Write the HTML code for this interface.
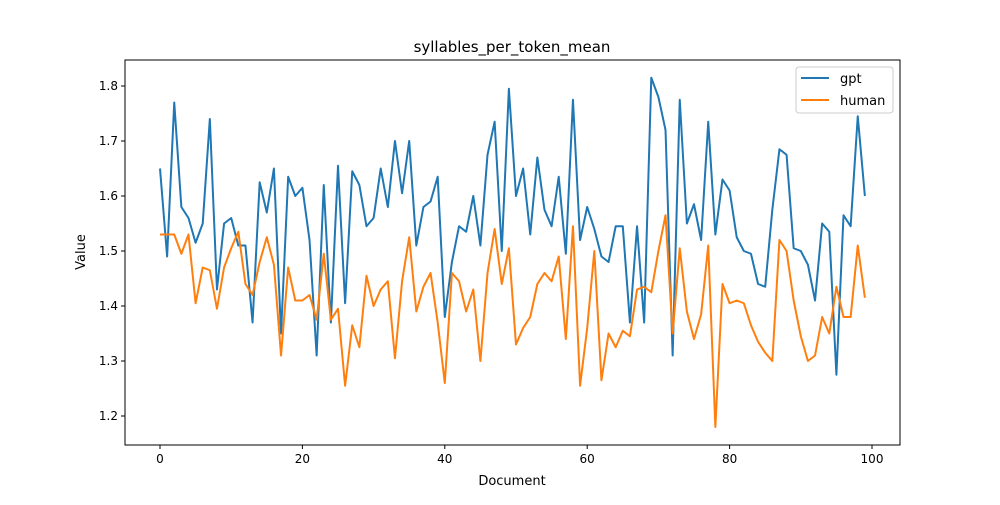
<!DOCTYPE html>
<html><head><meta charset="utf-8"><style>
body{margin:0;background:#fff;font-family:"Liberation Sans","DejaVu Sans",sans-serif;}
svg text{font-family:"DejaVu Sans","Liberation Sans",sans-serif;}
</style></head><body>
<svg id="chart" width="1000" height="500" xmlns="http://www.w3.org/2000/svg"></svg>
<script>
const gptValues=[1.65,1.49,1.77,1.58,1.56,1.515,1.55,1.74,1.43,1.55,1.56,1.51,1.51,1.37,1.625,1.57,1.65,1.35,1.635,1.60,1.615,1.52,1.31,1.62,1.37,1.655,1.405,1.645,1.62,1.545,1.56,1.65,1.58,1.70,1.605,1.70,1.51,1.58,1.59,1.635,1.38,1.48,1.545,1.535,1.60,1.51,1.675,1.735,1.50,1.795,1.60,1.65,1.53,1.67,1.575,1.545,1.635,1.495,1.775,1.52,1.58,1.54,1.49,1.48,1.545,1.545,1.37,1.545,1.37,1.815,1.78,1.72,1.31,1.775,1.55,1.585,1.52,1.735,1.53,1.63,1.61,1.525,1.50,1.495,1.44,1.435,1.575,1.685,1.675,1.505,1.50,1.475,1.41,1.55,1.535,1.275,1.565,1.545,1.745,1.60];
const humanValues=[1.53,1.53,1.53,1.495,1.53,1.405,1.47,1.465,1.395,1.47,1.505,1.535,1.44,1.42,1.48,1.525,1.475,1.31,1.47,1.41,1.41,1.42,1.375,1.495,1.375,1.395,1.255,1.365,1.325,1.455,1.40,1.43,1.445,1.305,1.445,1.525,1.39,1.435,1.46,1.37,1.26,1.46,1.445,1.39,1.43,1.30,1.46,1.54,1.44,1.505,1.33,1.36,1.38,1.44,1.46,1.445,1.49,1.34,1.545,1.255,1.36,1.50,1.265,1.35,1.325,1.355,1.345,1.43,1.435,1.425,1.50,1.565,1.35,1.505,1.39,1.34,1.385,1.51,1.18,1.44,1.405,1.41,1.405,1.365,1.335,1.315,1.30,1.52,1.50,1.41,1.345,1.30,1.31,1.38,1.35,1.435,1.38,1.38,1.51,1.415];
const xTicks=[0,20,40,60,80,100];
const yTicks=[1.2,1.3,1.4,1.5,1.6,1.7,1.8];
const seriesNames=["gpt","human"];
const colors=["#1f77b4","#ff7f0e"];

const svg=document.getElementById('chart');
const NS='http://www.w3.org/2000/svg';
const L=125,R=900,T=60,B=445;
const xs=v=>160+v*7.12;
const ys=v=>86+(1.8-v)*550;
function mk(tag,attrs,parent){const e=document.createElementNS(NS,tag);for(const k in attrs)e.setAttribute(k,attrs[k]);(parent||svg).appendChild(e);return e;}

const title=mk('text',{x:512,y:52,'text-anchor':'middle','font-size':15});
title.textContent='syllables_per_token_mean';



[gptValues,humanValues].forEach((arr,i)=>{
  const d=arr.map((v,j)=>(j?'L':'M')+xs(j).toFixed(2)+' '+ys(v).toFixed(2)).join(' ');
  const p=mk('path',{d:d,fill:'none',stroke:colors[i],'stroke-width':2,'stroke-linejoin':'round'});
  
  
});

const frame=mk('rect',{x:L,y:T,width:R-L,height:B-T,fill:'none',stroke:'#000','stroke-width':1});



xTicks.forEach(t=>{
  const x=xs(t);
  const tk=mk('line',{x1:x,x2:x,y1:B,y2:B+4,stroke:'#000'});
  
  
  const lb=mk('text',{x:x,y:B+18,'text-anchor':'middle','font-size':12});
  lb.textContent=t;
  
  
});
yTicks.forEach(t=>{
  const y=ys(t);
  const tk=mk('line',{x1:L-4,x2:L,y1:y,y2:y,stroke:'#000'});
  
  
  const lb=mk('text',{x:L-7,y:y+4,'text-anchor':'end','font-size':12});
  lb.textContent=t.toFixed(1);
  
  
});
const xt=mk('text',{x:512,y:485,'text-anchor':'middle','font-size':13});
xt.textContent='Document';


const yt=mk('text',{x:85,y:252,'text-anchor':'middle','font-size':13,transform:'rotate(-90 85 252)'});
yt.textContent='Value';



const lg=mk('g',{});


mk('rect',{x:796,y:67,width:97,height:46,rx:3,fill:'#fff',stroke:'#ccc'},lg);
seriesNames.forEach((n,i)=>{
  const y=78+i*22;
  const ln=mk('line',{x1:801,x2:829,y1:y,y2:y,stroke:colors[i],'stroke-width':2},lg);
  
  
  const tx=mk('text',{x:840,y:y+5,'font-size':13},lg);
  tx.textContent=n;
  
  
});
</script>
</body></html>
